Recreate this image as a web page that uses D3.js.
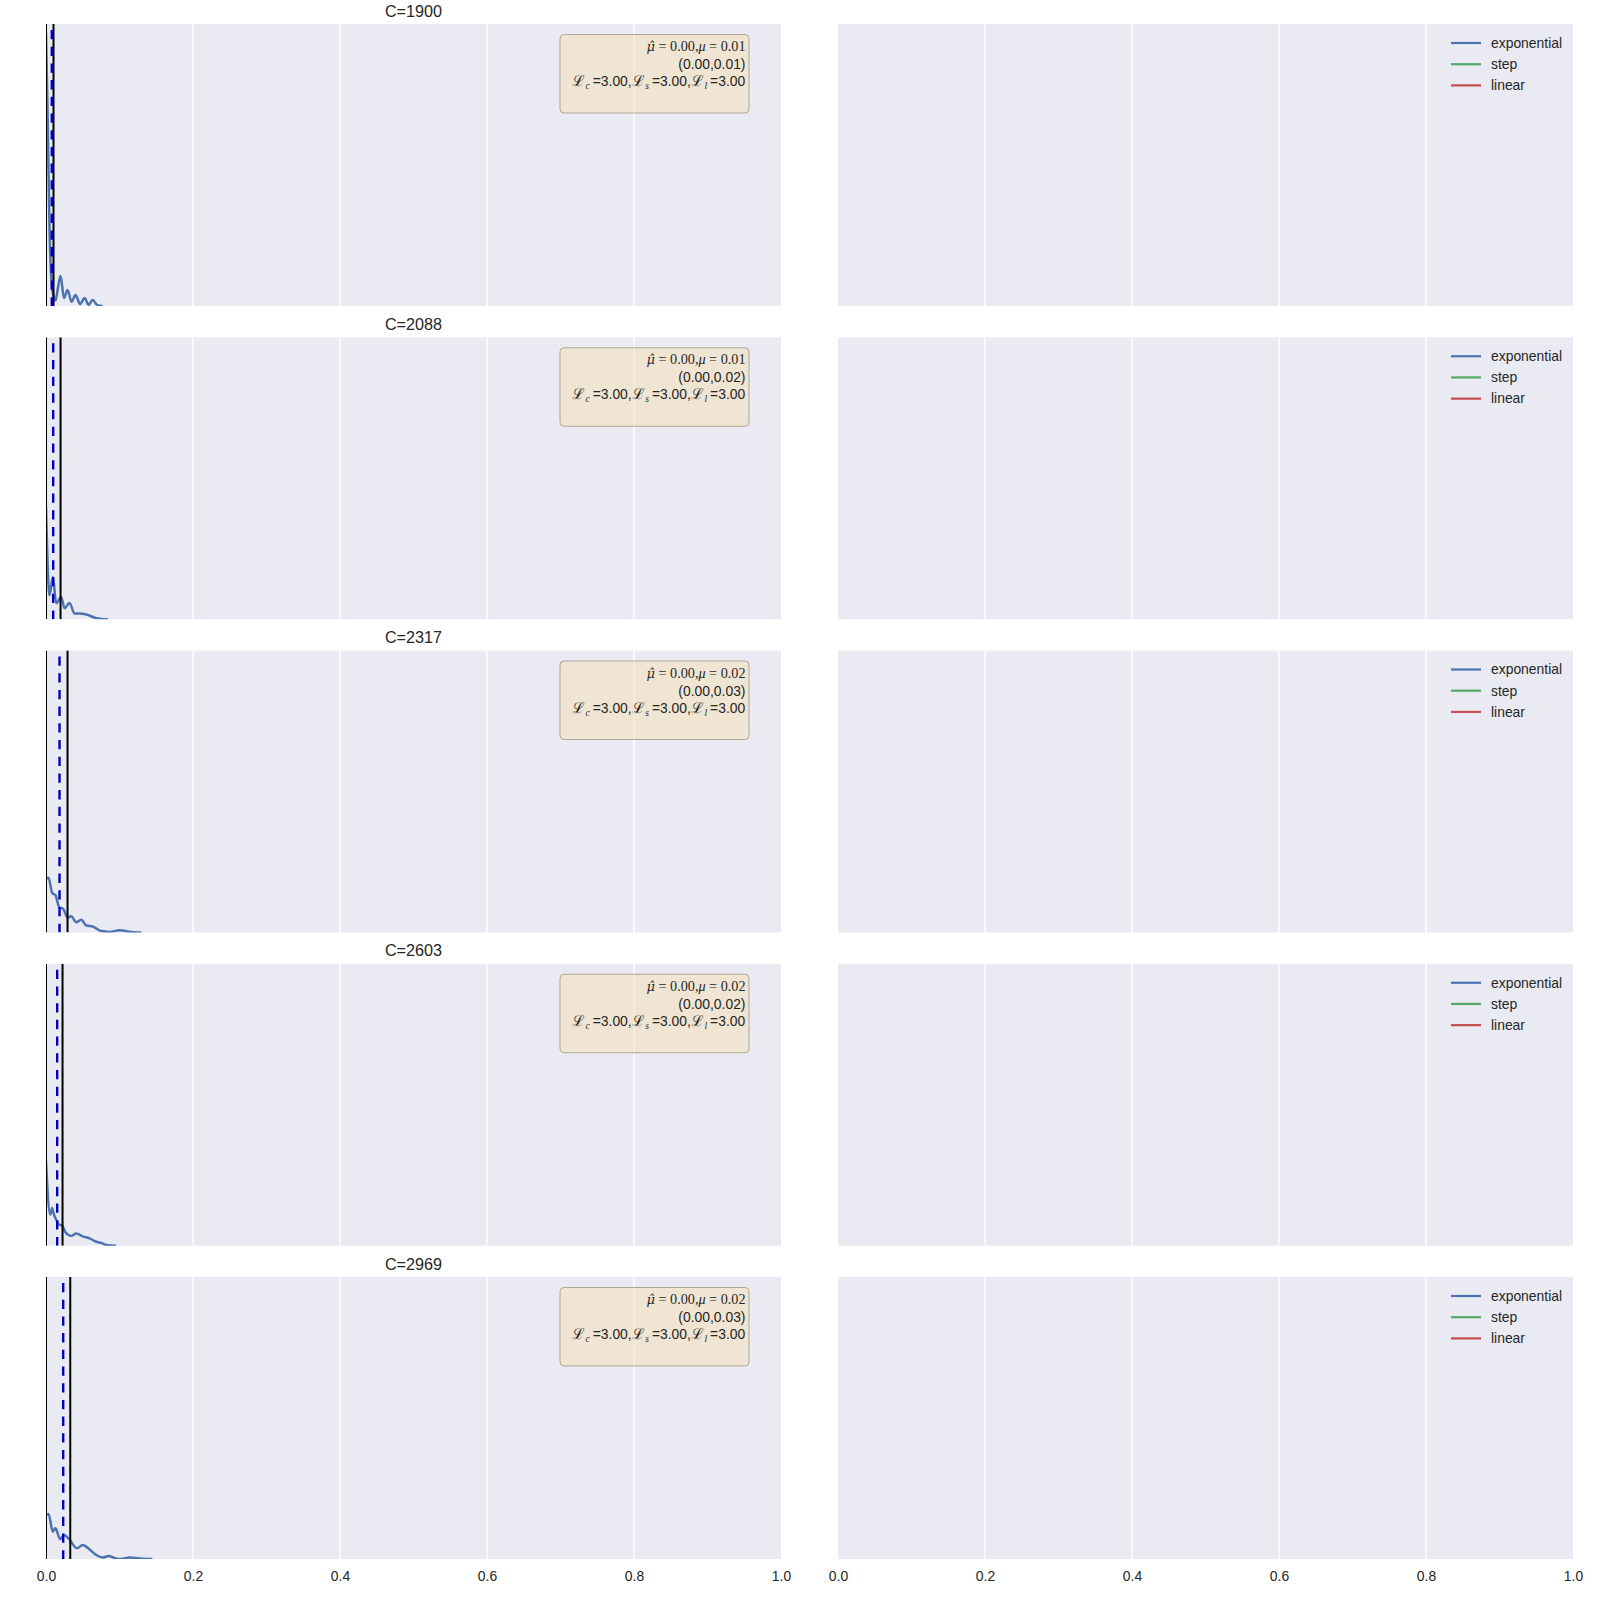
<!DOCTYPE html>
<html>
<head>
<meta charset="utf-8">
<script src="https://cdn.jsdelivr.net/npm/d3@7"></script>
<style>
  html, body { margin: 0; padding: 0; background: #ffffff; }
  svg { display: block; }
</style>
</head>
<body>
<svg id="chart" width="1600" height="1600"></svg>
<script>
// ---------------- data ----------------
const titles = ["C=1900", "C=2088", "C=2317", "C=2603", "C=2969"];
const xTicks = [0.0, 0.2, 0.4, 0.6, 0.8, 1.0];
const legendLabels = ["exponential", "step", "linear"];
const legendColors = ["#4C72B0", "#55A868", "#C44E52"];

// KDE curves (x values and relative density heights), one array per panel
const curveX = [
  [0.000, 0.002, 0.005, 0.009, 0.013, 0.016, 0.0198, 0.0245, 0.0293, 0.0347, 0.0402, 0.0463, 0.0525, 0.0579, 0.0634, 0.070, 0.077],
  [0.000, 0.0048, 0.0093, 0.0139, 0.0207, 0.0252, 0.032, 0.0388, 0.0456, 0.0548, 0.0684, 0.0842],
  [0.000, 0.0034, 0.0084, 0.0129, 0.0184, 0.0229, 0.0297, 0.0343, 0.0411, 0.048, 0.0548, 0.0638, 0.0752, 0.0865, 0.100, 0.1138, 0.1297],
  [0.000, 0.0057, 0.0084, 0.0102, 0.0139, 0.0184, 0.0215, 0.0266, 0.0343, 0.0411, 0.0501, 0.0593, 0.0684, 0.0752, 0.082, 0.0956],
  [0.000, 0.0034, 0.0093, 0.0129, 0.0193, 0.0243, 0.0307, 0.042, 0.0501, 0.0593, 0.0684, 0.0774, 0.0851, 0.0947, 0.1025, 0.1138, 0.1274, 0.1447]
];
const curveY = [
  [0.97, 0.70, 0.25, 0.05, 0.02, 0.06, 0.106, 0.028, 0.057, 0.015, 0.039, 0.007, 0.028, 0.004, 0.021, 0.003, 0.0],
  [0.398, 0.085, 0.150, 0.057, 0.079, 0.039, 0.058, 0.020, 0.020, 0.017, 0.004, 0.0],
  [0.19, 0.194, 0.14, 0.132, 0.088, 0.085, 0.053, 0.058, 0.036, 0.045, 0.025, 0.021, 0.005, 0.002, 0.008, 0.003, 0.0],
  [0.30, 0.11, 0.134, 0.116, 0.092, 0.074, 0.073, 0.047, 0.035, 0.043, 0.033, 0.026, 0.014, 0.010, 0.0025, 0.0],
  [0.156, 0.160, 0.097, 0.109, 0.07, 0.085, 0.073, 0.038, 0.05, 0.034, 0.014, 0.005, 0.011, 0.002, 0.0, 0.005, 0.002, 0.0]
];

const muHat = [0.0, 0.0, 0.0, 0.0, 0.0];
const muVals = [0.0079, 0.0098, 0.0184, 0.0152, 0.0234];   // dashed line
const ciLow = [0.0, 0.0, 0.0, 0.0, 0.0];                    // solid line
const ciHigh = [0.0102, 0.0198, 0.0293, 0.0225, 0.033];     // solid line
const lossC = [3.0, 3.0, 3.0, 3.0, 3.0];
const lossS = [3.0, 3.0, 3.0, 3.0, 3.0];
const lossL = [3.0, 3.0, 3.0, 3.0, 3.0];

// ---------------- layout ----------------
const leftX0 = 46, leftX1 = 781, rightX0 = 838, rightX1 = 1573;
const panelTop0 = 24, panelStep = 313.25, panelH = 282;
const bg = "#EAEAF2", textColor = "#262626";
const sans = "Liberation Sans, Arial, sans-serif";
const serif = "Liberation Serif, DejaVu Serif, serif";

const svg = d3.select("#chart");
svg.append("rect").attr("width", 1600).attr("height", 1600).attr("fill", "#ffffff");

const xLeft = d3.scaleLinear().domain([0, 1]).range([leftX0, leftX1]);
const xRight = d3.scaleLinear().domain([0, 1]).range([rightX0, rightX1]);
const fmt2 = d3.format(".2f");

const defs = svg.append("defs");

// right-align a text (built with text-anchor start) using its bounding box
function alignRight(textSel, right) {
  textSel.attr("x", right);
  const bb = textSel.node().getBBox();
  textSel.attr("x", right - (bb.x + bb.width - right));
}

titles.forEach((title, i) => {
  const top = panelTop0 + i * panelStep;
  const bottom = top + panelH;
  const y = d3.scaleLinear().domain([0, 1]).range([bottom, top]);

  // ---- left panel ----
  const gL = svg.append("g");
  gL.append("rect").attr("x", leftX0).attr("y", top)
    .attr("width", leftX1 - leftX0).attr("height", panelH).attr("fill", bg);
  xTicks.filter(t => t > 0 && t < 1).forEach(t => {
    gL.append("line").attr("x1", xLeft(t)).attr("x2", xLeft(t))
      .attr("y1", top).attr("y2", bottom)
      .attr("stroke", "#ffffff").attr("stroke-width", 1.4);
  });

  const clipId = "clipL" + i;
  defs.append("clipPath").attr("id", clipId).append("rect")
    .attr("x", leftX0).attr("y", top).attr("width", leftX1 - leftX0).attr("height", panelH);

  const plot = gL.append("g").attr("clip-path", `url(#${clipId})`);
  const pts = curveX[i].map((xv, k) => [xv, curveY[i][k]]);
  const line = d3.line().x(d => xLeft(d[0])).y(d => y(d[1])).curve(d3.curveMonotoneX);
  plot.append("path").attr("d", line(pts)).attr("fill", "none")
    .attr("stroke", "#4C72B0").attr("stroke-width", 2.5).attr("stroke-linejoin", "round");

  // vertical lines
  [ciLow[i], ciHigh[i]].forEach(v => {
    plot.append("line").attr("x1", xLeft(v)).attr("x2", xLeft(v))
      .attr("y1", top).attr("y2", bottom)
      .attr("stroke", "#000000").attr("stroke-width", 2);
  });
  plot.append("line").attr("x1", xLeft(muVals[i])).attr("x2", xLeft(muVals[i]))
    .attr("y1", top + 6).attr("y2", bottom)
    .attr("stroke", "#0000c0").attr("stroke-width", 2.4)
    .attr("stroke-dasharray", "9.3,7.4");

  // title
  gL.append("text").attr("x", (leftX0 + leftX1) / 2).attr("y", top - 7.5)
    .attr("text-anchor", "middle").attr("font-family", sans)
    .attr("font-size", 16.2).attr("fill", textColor).text(title);

  // info box
  const boxX0 = 560, boxX1 = 749;
  gL.append("rect").attr("x", boxX0).attr("y", top + 10.5)
    .attr("width", boxX1 - boxX0).attr("height", 78.5).attr("rx", 4).attr("ry", 4)
    .attr("fill", "rgb(245,222,179)").attr("fill-opacity", 0.5)
    .attr("stroke", "#b0a695").attr("stroke-width", 1);

  const tx = 745.5;
  // line 1: math  (mu-hat = .., mu = ..)
  const t1 = gL.append("text").attr("x", tx).attr("y", top + 27)
    .attr("font-family", serif).attr("font-size", 14.2).attr("fill", textColor);
  t1.append("tspan").attr("font-family", "DejaVu Serif, serif").attr("font-style", "italic")
    .attr("font-size", 13).text("μ\u0302");
  t1.append("tspan").text(" = " + fmt2(muHat[i]) + ",");
  t1.append("tspan").attr("font-style", "italic").text("μ");
  t1.append("tspan").text(" = " + fmt2(muVals[i]));
  alignRight(t1, tx);

  // line 2
  const t2 = gL.append("text").attr("x", tx).attr("y", top + 45)
    .attr("font-family", sans).attr("font-size", 13.9).attr("fill", textColor)
    .text("(" + fmt2(ciLow[i]) + "," + fmt2(ciHigh[i]) + ")");
  alignRight(t2, tx);

  // line 3
  const t3 = gL.append("text").attr("x", tx).attr("y", top + 62)
    .attr("font-family", sans).attr("font-size", 13.9).attr("fill", textColor);
  const parts = [["c", lossC[i]], ["s", lossS[i]], ["l", lossL[i]]];
  parts.forEach((p, k) => {
    t3.append("tspan").attr("font-family", "DejaVu Serif, serif").attr("font-size", 15)
      .attr("dx", k === 0 ? 0 : 0.5).text("ℒ");
    t3.append("tspan").attr("font-family", serif).attr("font-style", "italic")
      .attr("font-size", 9.5).attr("dy", 3).text(p[0]);
    t3.append("tspan").attr("dy", -3).attr("dx", 3).text("=" + fmt2(p[1]) + (k < 2 ? "," : ""));
  });
  alignRight(t3, tx);

  // ---- right panel ----
  const gR = svg.append("g");
  gR.append("rect").attr("x", rightX0).attr("y", top)
    .attr("width", rightX1 - rightX0).attr("height", panelH).attr("fill", bg);
  xTicks.filter(t => t > 0 && t < 1).forEach(t => {
    gR.append("line").attr("x1", xRight(t)).attr("x2", xRight(t))
      .attr("y1", top).attr("y2", bottom)
      .attr("stroke", "#ffffff").attr("stroke-width", 1.4);
  });

  // legend
  legendLabels.forEach((lab, k) => {
    const ly = top + 19 + k * 21.2;
    gR.append("line").attr("x1", 1451).attr("x2", 1481).attr("y1", ly).attr("y2", ly)
      .attr("stroke", legendColors[k]).attr("stroke-width", 2.2);
    gR.append("text").attr("x", 1491).attr("y", ly + 4.8)
      .attr("font-family", sans)
      .attr("font-size", 13.9).attr("fill", textColor).text(lab);
  });

  // x axes on bottom row only
  if (i === titles.length - 1) {
    [xLeft, xRight].forEach(sc => {
      const ax = svg.append("g").attr("transform", `translate(0,${bottom})`)
        .call(d3.axisBottom(sc).tickValues(xTicks).tickFormat(d3.format(".1f"))
          .tickSize(0).tickPadding(12));
      ax.select(".domain").remove();
      ax.attr("font-size", null).attr("font-family", null);
      ax.selectAll("text").attr("font-family", sans)
        .attr("font-size", 13.9).attr("fill", textColor);
    });
  }
});
</script>
</body>
</html>
